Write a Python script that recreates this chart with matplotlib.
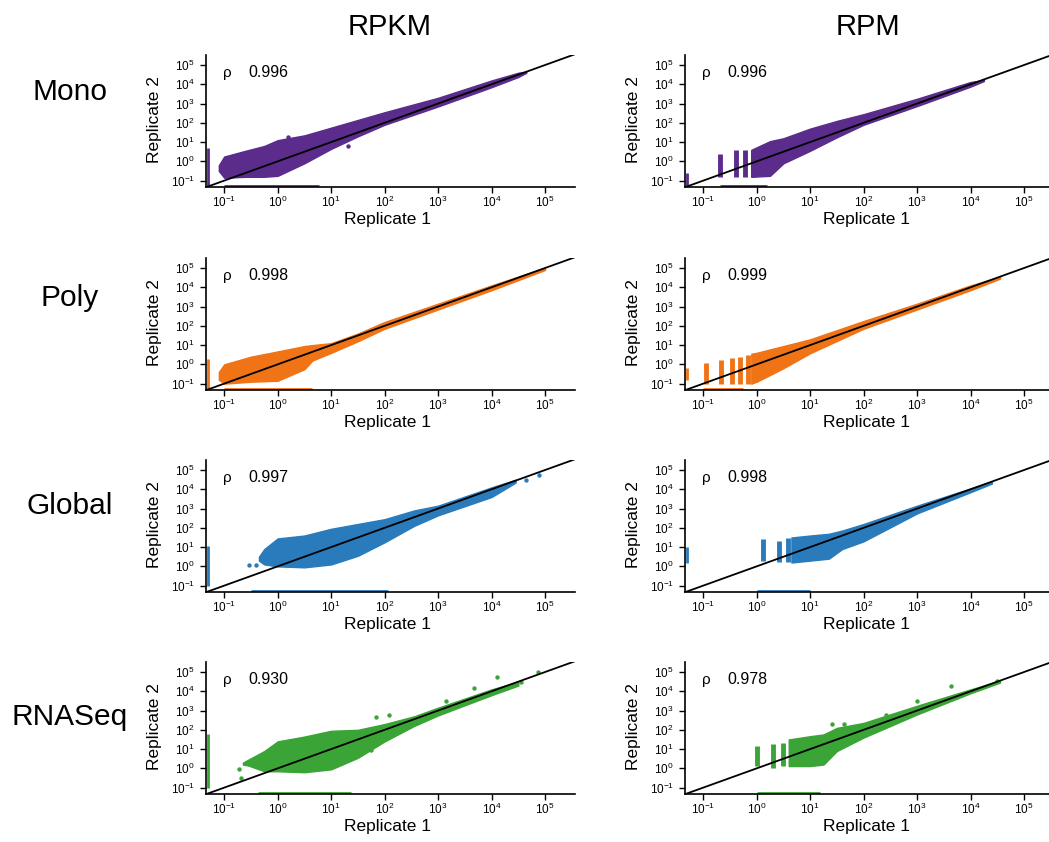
import numpy as np
import matplotlib
matplotlib.use("Agg")
import matplotlib.pyplot as plt

plt.rcParams['font.family'] = ['Liberation Sans', 'DejaVu Sans']
plt.rcParams['mathtext.fontset'] = 'custom'
plt.rcParams['mathtext.rm'] = 'Liberation Sans'
plt.rcParams['mathtext.it'] = 'Liberation Sans:italic'
plt.rcParams['mathtext.bf'] = 'Liberation Sans:bold'

# Zeilen / Spalten
rows = ['Mono', 'Poly', 'Global', 'RNASeq']
cols = ['RPKM', 'RPM']
row_colors = ['#5b2c8c', '#f07315', '#2a7bbb', '#3aa436']
rho = [['0.996', '0.996'], ['0.998', '0.999'], ['0.997', '0.998'], ['0.930', '0.978']]

# Punktwolken als Huellkurven (log10 Replicate 1 / Replicate 2)
mono_rpkm_x = [-1.1, -1.0, -0.6, -0.25, 0.0, 0.5, 1.0, 1.5, 2.0, 3.0, 4.0, 4.5, 4.65]
mono_rpkm_hi = [-0.2, 0.25, 0.55, 0.8, 1.1, 1.35, 1.75, 2.15, 2.55, 3.3, 4.2, 4.6, 4.66]
mono_rpkm_lo = [-0.5, -0.85, -0.8, -0.8, -0.75, -0.1, 0.65, 1.3, 1.9, 2.85, 3.85, 4.38, 4.6]

mono_rpm_x = [-0.1, 0.25, 0.5, 1.0, 1.5, 2.0, 3.0, 4.0, 4.25]
mono_rpm_hi = [0.6, 1.05, 1.2, 1.7, 2.1, 2.45, 3.25, 4.12, 4.22]
mono_rpm_lo = [-0.8, -0.75, -0.1, 0.55, 1.25, 1.9, 2.87, 3.88, 4.17]

poly_rpkm_x = [-1.1, -1.0, -0.5, 0.0, 0.5, 0.65, 1.0, 1.5, 2.0, 3.0, 4.0, 5.0]
poly_rpkm_hi = [-0.4, 0.0, 0.4, 0.67, 0.95, 1.0, 1.1, 1.6, 2.2, 3.15, 4.1, 5.02]
poly_rpkm_lo = [-0.8, -1.0, -0.9, -0.85, -0.25, 0.2, 0.6, 1.2, 1.85, 2.85, 3.85, 4.9]

poly_rpm_x = [-0.1, 0.0, 0.5, 1.0, 2.0, 3.0, 4.0, 4.55]
poly_rpm_hi = [0.55, 0.6, 0.95, 1.3, 2.25, 3.15, 4.1, 4.55]
poly_rpm_lo = [-1.0, -0.9, -0.2, 0.58, 1.85, 2.85, 3.85, 4.45]

global_rpkm_x = [-0.35, -0.25, 0.0, 0.5, 1.0, 1.5, 2.0, 2.55, 3.0, 4.0, 4.45]
global_rpkm_hi = [0.5, 0.9, 1.45, 1.6, 1.95, 2.2, 2.45, 2.9, 3.15, 4.1, 4.5]
global_rpkm_lo = [0.3, 0.1, 0.0, -0.05, 0.1, 0.55, 1.25, 2.1, 2.65, 3.6, 4.35]

global_rpm_x = [0.65, 1.0, 1.35, 1.6, 2.0, 3.0, 4.0, 4.4]
global_rpm_hi = [1.5, 1.6, 1.69, 1.86, 2.2, 3.15, 4.05, 4.4]
global_rpm_lo = [0.2, 0.3, 0.4, 0.9, 1.3, 2.75, 3.85, 4.3]

rnaseq_rpkm_x = [-0.65, -0.55, -0.25, 0.0, 0.5, 1.0, 1.5, 2.0, 2.55, 3.0, 4.0, 4.5]
rnaseq_rpkm_hi = [0.3, 0.45, 0.9, 1.4, 1.65, 1.95, 2.0, 2.3, 2.7, 3.15, 4.1, 4.5]
rnaseq_rpkm_lo = [0.2, 0.15, -0.15, -0.15, -0.2, -0.05, 0.55, 1.4, 2.2, 2.75, 3.8, 4.3]

rnaseq_rpm_x = [0.6, 1.0, 1.25, 1.5, 2.0, 3.0, 4.0, 4.55]
rnaseq_rpm_hi = [1.5, 1.67, 1.76, 2.1, 2.36, 3.25, 4.1, 4.55]
rnaseq_rpm_lo = [0.12, 0.12, 0.2, 0.9, 1.6, 2.8, 3.9, 4.45]

# Senkrechte Streifen bei RPM (diskrete Zaehlwerte): x, unten, oben
mono_rpm_strip_x = [-0.69, -0.39, -0.22, -0.06]
mono_rpm_strip_lo = [-0.8, -0.8, -0.8, -0.8]
mono_rpm_strip_hi = [0.4, 0.57, 0.57, 0.6]
poly_rpm_strip_x = [-0.94, -0.66, -0.47, -0.31, -0.16]
poly_rpm_strip_lo = [-1.0, -1.0, -1.0, -1.0, -1.0]
poly_rpm_strip_hi = [0.05, 0.23, 0.32, 0.4, 0.5]
global_rpm_strip_x = [0.11, 0.41, 0.59]
global_rpm_strip_lo = [0.3, 0.21, 0.21]
global_rpm_strip_hi = [1.43, 1.34, 1.46]
rnaseq_rpm_strip_x = [0.0, 0.31, 0.5]
rnaseq_rpm_strip_lo = [0.12, 0.03, 0.12]
rnaseq_rpm_strip_hi = [1.16, 1.24, 1.33]

# Nullwerte: Bereich am unteren Rand (Replicate 2 = 0) und am linken Rand (Replicate 1 = 0)
zero_bottom = [[(-1.0, 0.78), (-0.69, 0.19)],
               [(-1.0, 0.65), (-1.0, -0.25)],
               [(-0.5, 2.06), (0.0, 1.0)],
               [(-0.37, 1.37), (0.0, 1.19)]]
zero_left = [[(-1.3, 0.7), (-1.3, -0.6)],
             [(-1.3, 0.3), (-0.8, -0.2)],
             [(-1.0, 1.08), (0.2, 1.0)],
             [(-1.0, 1.76), None]]

# Einzelne Ausreisser (log10 x, log10 y)
mono_rpkm_out_x = [1.31, -0.9, 0.2]
mono_rpkm_out_y = [0.78, -0.55, 1.25]
global_rpkm_out_x = [-0.53, -0.4, 2.68, 4.64, 4.89]
global_rpkm_out_y = [0.07, 0.05, 2.85, 4.47, 4.73]
rnaseq_rpkm_out_x = [-0.72, -0.69, 4.11, 4.86, 3.68, 3.15, 2.09, 1.84, 0.97, 1.74, 4.55]
rnaseq_rpkm_out_y = [-0.05, -0.48, 4.72, 5.0, 4.17, 3.52, 2.79, 2.69, 1.36, 0.93, 4.47]
rnaseq_rpm_out_x = [1.41, 1.63, 2.41, 3.0, 3.63, 4.5]
rnaseq_rpm_out_y = [2.31, 2.31, 2.79, 3.52, 4.26, 4.55]

clouds = [[(mono_rpkm_x, mono_rpkm_lo, mono_rpkm_hi), (mono_rpm_x, mono_rpm_lo, mono_rpm_hi)],
          [(poly_rpkm_x, poly_rpkm_lo, poly_rpkm_hi), (poly_rpm_x, poly_rpm_lo, poly_rpm_hi)],
          [(global_rpkm_x, global_rpkm_lo, global_rpkm_hi), (global_rpm_x, global_rpm_lo, global_rpm_hi)],
          [(rnaseq_rpkm_x, rnaseq_rpkm_lo, rnaseq_rpkm_hi), (rnaseq_rpm_x, rnaseq_rpm_lo, rnaseq_rpm_hi)]]
strips = [(mono_rpm_strip_x, mono_rpm_strip_lo, mono_rpm_strip_hi),
          (poly_rpm_strip_x, poly_rpm_strip_lo, poly_rpm_strip_hi),
          (global_rpm_strip_x, global_rpm_strip_lo, global_rpm_strip_hi),
          (rnaseq_rpm_strip_x, rnaseq_rpm_strip_lo, rnaseq_rpm_strip_hi)]
outliers = {(0, 0): (mono_rpkm_out_x, mono_rpkm_out_y),
            (2, 0): (global_rpkm_out_x, global_rpkm_out_y),
            (3, 0): (rnaseq_rpkm_out_x, rnaseq_rpkm_out_y),
            (3, 1): (rnaseq_rpm_out_x, rnaseq_rpm_out_y)}

W, H = 1049, 842
fig = plt.figure(figsize=(W / 100, H / 100), dpi=100)

lims_x = (10 ** -1.34, 10 ** 5.56)
lims_y = (10 ** -1.33, 10 ** 5.52)
col_left = [206, 685]
row_top = [55, 258, 460, 662]
ax_w, ax_h = 369, 132

def p(v):
    return 10 ** np.asarray(v, dtype=float)

for r in range(4):
    color = row_colors[r]
    for c in range(2):
        ax = fig.add_axes([col_left[c] / W, (H - row_top[r] - ax_h) / H, ax_w / W, ax_h / H])
        ax.set_xscale('log')
        ax.set_yscale('log')

        # Wolke
        x, lo, hi = clouds[r][c]
        ax.fill_between(p(x), p(lo), p(hi), facecolor=color, edgecolor=color, lw=1.0, zorder=2)

        if c == 1:
            sx, slo, shi = strips[r]
            ax.vlines(p(sx), p(slo), p(shi), colors=color, lw=3.5, zorder=2)

        if (r, c) in outliers:
            ox, oy = outliers[(r, c)]
            ax.scatter(p(ox), p(oy), s=10, color=color, lw=0, zorder=2)

        b = zero_bottom[r][c]
        if b is not None:
            ax.hlines(10 ** -1.29, 10 ** b[0], 10 ** b[1], colors=color, lw=2, zorder=2)
        lft = zero_left[r][c]
        if lft is not None:
            ax.vlines(10 ** -1.30, 10 ** lft[0], 10 ** lft[1], colors=color, lw=2, zorder=2)

        # Diagonale y = x
        ax.plot(lims_x, lims_x, color='black', lw=1.3, zorder=3)

        ax.set_xlim(lims_x)
        ax.set_ylim(lims_y)
        ticks = p([-1, 0, 1, 2, 3, 4, 5])
        ax.set_xticks(ticks)
        ax.set_yticks(ticks)
        ax.minorticks_off()
        ax.tick_params(direction='out', length=4, width=1, labelsize=8.5)
        ax.tick_params(axis='x', pad=1.5)
        ax.tick_params(axis='y', pad=4)
        for s in ['top', 'right']:
            ax.spines[s].set_visible(False)
        for s in ['left', 'bottom']:
            ax.spines[s].set_linewidth(1.2)

        ax.set_xlabel('Replicate 1', fontsize=12.5)
        ax.set_ylabel('Replicate 2', fontsize=12.5)
        ax.xaxis.set_label_coords(0.493, -0.19)
        ax.yaxis.set_label_coords(-0.12, 0.51)

        ax.text(0.046, 0.864, 'ρ', transform=ax.transAxes, fontsize=11, va='center', ha='left')
        ax.text(0.114, 0.864, rho[r][c], transform=ax.transAxes, fontsize=11.5, va='center', ha='left')

# Spaltentitel und Zeilenbeschriftungen
for x, t in zip([390, 868], cols):
    fig.text(x / W, 1 - 35 / H, t, fontsize=21, ha='center', va='baseline')
for y, t in zip([100, 306, 514, 725], rows):
    fig.text(70 / W, 1 - y / H, t, fontsize=21.5, ha='center', va='baseline')

plt.savefig('out.png', dpi=100)
